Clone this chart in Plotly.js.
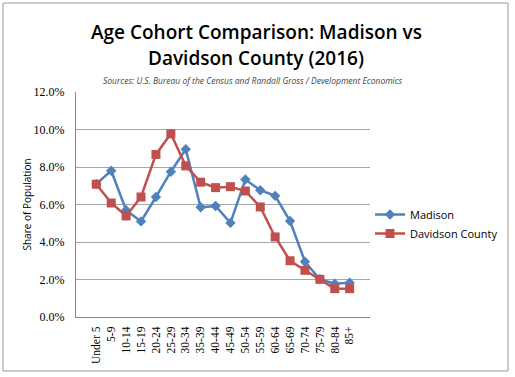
<!DOCTYPE html>
<html><head><meta charset="utf-8">
<script src="https://cdn.plot.ly/plotly-3.0.1.min.js"></script>
<style>html,body{margin:0;padding:0;background:#fff}#chart{width:515px;height:377px}</style>
</head><body><div id="chart"></div>
<script>
const categories = ["Under 5","5-9","10-14","15-19","20-24","25-29","30-34","35-39","40-44","45-49","50-54","55-59","60-64","65-69","70-74","75-79","80-84","85+"];
const madison = [0.071,0.078,0.057,0.051,0.064,0.0775,0.0895,0.0585,0.0592,0.0502,0.0733,0.0676,0.0646,0.0512,0.0295,0.0201,0.0178,0.0183];
const davidson = [0.0708,0.0608,0.0539,0.064,0.0867,0.0977,0.0806,0.0719,0.069,0.0695,0.0672,0.0587,0.0427,0.030,0.0249,0.0201,0.0151,0.0151];
const yTicks = [0,0.02,0.04,0.06,0.08,0.10,0.12];
const titleLines = ["Age Cohort Comparison: Madison vs", "Davidson County (2016)"];
const subtitle = "Sources: U.S. Bureau of the Census and Randall Gross / Development Economics";

const traces = [
  {x: categories, y: madison, name: "Madison", type: "scatter", mode: "lines+markers",
   line: {color: "#4F81BD", width: 2.5}, marker: {symbol: "diamond", size: 8, color: "#4F81BD"}},
  {x: categories, y: davidson, name: "Davidson County", type: "scatter", mode: "lines+markers",
   line: {color: "#C0504D", width: 2.5}, marker: {symbol: "square", size: 9, color: "#C0504D"}}
];
const PH = 225, PW = 294, PL = 76;
function py(pix) { return (317 - pix) / PH; }
function px(pix) { return (pix - PL) / PW; }
const layout = {
  width: 515, height: 377,
  margin: {l: 76, r: 145, t: 92, b: 60},
  paper_bgcolor: "#fff", plot_bgcolor: "#fff",
  showlegend: true,
  legend: {x: 1.0, y: py(224), xanchor: "left", yanchor: "middle", font: {family: "Open Sans", size: 11, color: "#000"}, tracegroupgap: 10, itemwidth: 30},
  annotations: [
    {text: titleLines[0], xref: "paper", yref: "paper", x: px(256), y: py(32), xanchor: "center", yanchor: "middle", showarrow: false,
     font: {family: "Open Sans", size: 19, weight: 600, color: "#000"}},
    {text: titleLines[1], xref: "paper", yref: "paper", x: px(256), y: py(58), xanchor: "center", yanchor: "middle", showarrow: false,
     font: {family: "Open Sans", size: 19, weight: 600, color: "#000"}},
    {text: "<i>" + subtitle + "</i>", xref: "paper", yref: "paper",
     x: px(253), y: py(81), xanchor: "center", yanchor: "middle", showarrow: false, font: {family: "Open Sans", size: 8.5, color: "#444"}}],
  xaxis: {type: "category", tickangle: -90, tickfont: {family: "Liberation Serif", size: 11.5, color: "#000"},
          showline: true, linecolor: "#888", linewidth: 1, showgrid: false, ticks: "outside", ticklen: 4, tickcolor: "rgba(0,0,0,0)", automargin: false},
  yaxis: {range: [0, 0.12], tickvals: yTicks, tickformat: ".1%", tickfont: {family: "Liberation Serif", size: 12, color: "#000"},
          showline: true, linecolor: "#888", linewidth: 1, gridcolor: "#a6a6a6", gridwidth: 1, zeroline: false,
          ticks: "outside", ticklen: 8, tickcolor: "rgba(0,0,0,0)",
          title: {text: "Share of Population", font: {family: "Open Sans", size: 10, color: "#000"}, standoff: 0}, automargin: false},
  shapes: [{type: "rect", xref: "paper", yref: "paper", x0: px(3), x1: px(508), y0: py(371), y1: py(3), line: {color: "#999", width: 1}}]
};
Plotly.newPlot("chart", traces, layout, {displayModeBar: false});
</script></body></html>
